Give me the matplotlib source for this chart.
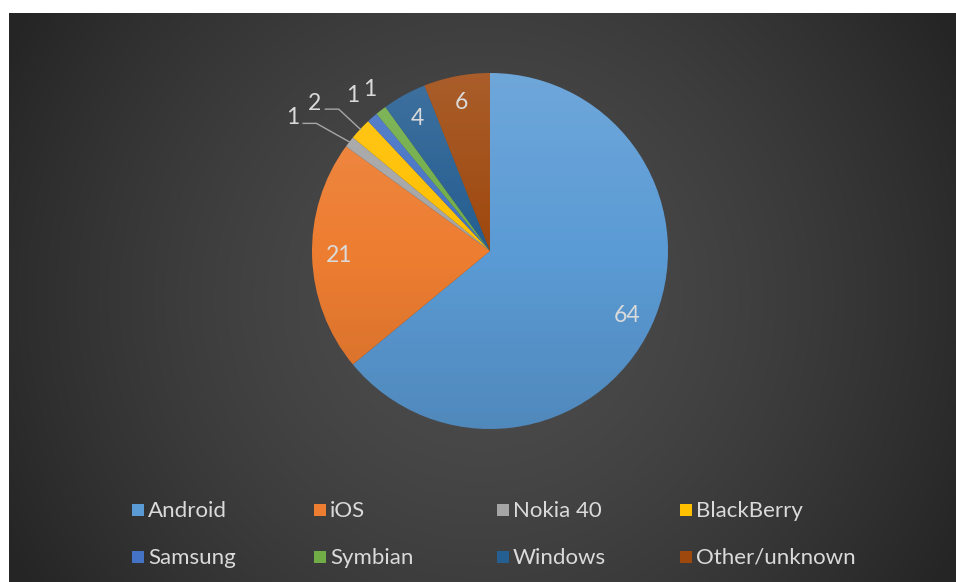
import numpy as np
import matplotlib
matplotlib.use("Agg")
from matplotlib import pyplot as plt
from matplotlib.colors import to_rgb
from matplotlib.patches import Rectangle, Circle

# data
labels = ['Android', 'iOS', 'Nokia 40', 'BlackBerry', 'Samsung', 'Symbian', 'Windows', 'Other/unknown']
values = [64, 21, 1, 2, 1, 1, 4, 6]
colors = ['#5B9BD5', '#ED7D31', '#A5A5A5', '#FFC000', '#4472C4', '#70AD47', '#255E91', '#9E480E']

# outside label spots for the small slices (data coords), and which get a leader line
outside_pos = {2: (-1.11, 0.75), 3: (-0.985, 0.83), 4: (-0.77, 0.875), 5: (-0.674, 0.905)}
leader = [2, 3]

W, H = 956, 582
plt.rcParams['font.family'] = ['Lato', 'DejaVu Sans']
fig = plt.figure(figsize=(W / 100, H / 100), dpi=100)
fig.patch.set_facecolor('white')

# dark radial background
bx0, by0 = 9, 13
bg = fig.add_axes([bx0 / W, 0, (W - bx0) / W, (H - by0) / H])
xx, yy = np.meshgrid(np.arange(bx0, W), np.arange(by0, H))
d = np.hypot(xx - 482, yy - 297)
t = np.clip(d / 540, 0, 1) ** 1.5
c0, c1 = np.array(to_rgb('#4d4d4d')), np.array(to_rgb('#252525'))
img = c0[None, None, :] * (1 - t[..., None]) + c1[None, None, :] * t[..., None]
bg.imshow(img, aspect='auto', interpolation='bilinear')
bg.axis('off')

# pie
cx, cy, R = 490, 251, 178
ax = fig.add_axes([(cx - R) / W, (H - cy - R) / H, 2 * R / W, 2 * R / H])
wedges, _ = ax.pie(values, colors=colors, startangle=90, counterclock=False,
                   radius=1, wedgeprops=dict(linewidth=0))

# soft top-light / bottom-dark shading like the office style
g = np.linspace(1, -1, 200)[:, None] * np.ones((1, 200))
shade = np.zeros((200, 200, 4))
shade[..., :3] = np.where(g[..., None] > 0, 1.0, 0.0)
shade[..., 3] = np.abs(g) * 0.12
im = ax.imshow(shade, extent=[-1, 1, -1, 1], aspect='auto', zorder=3)
im.set_clip_path(Circle((0, 0), 1, transform=ax.transData))
ax.set_xlim(-1, 1)
ax.set_ylim(-1, 1)
ax.axis('off')

txt_col = '#dadada'
for i, w in enumerate(wedges):
    mid = np.deg2rad((w.theta1 + w.theta2) / 2)
    if i in outside_pos:
        lx, ly = outside_pos[i]
        ax.text(lx, ly, str(values[i]), color=txt_col, fontsize=16.5,
                ha='center', va='center', zorder=5, clip_on=False)
        if i in leader:
            ex, ey = np.cos(mid), np.sin(mid)
            ax.plot([lx + 0.06, lx + 0.135, ex], [ly - 0.033, ly - 0.033, ey],
                    color='#a6a6a6', lw=1, zorder=4, clip_on=False)
    else:
        r = 0.85
        ax.text(r * np.cos(mid), r * np.sin(mid), str(values[i]), color=txt_col,
                fontsize=16.5, ha='center', va='center', zorder=5)

# legend, 2 rows x 4 equal columns
col_x = [132, 314, 497, 680]
row_base = [517, 564]
msz = 12
for i, lab in enumerate(labels):
    x = col_x[i % 4]
    yb = row_base[i // 4]
    fig.patches.append(Rectangle((x / W, 1 - (yb - 1) / H), msz / W, msz / H,
                                 transform=fig.transFigure, facecolor=colors[i],
                                 edgecolor='none', zorder=5))
    fig.text((x + 16) / W, 1 - yb / H, lab, color=txt_col, fontsize=16,
             ha='left', va='baseline', zorder=5)

fig.savefig('out.png', dpi=100, facecolor=fig.get_facecolor())
